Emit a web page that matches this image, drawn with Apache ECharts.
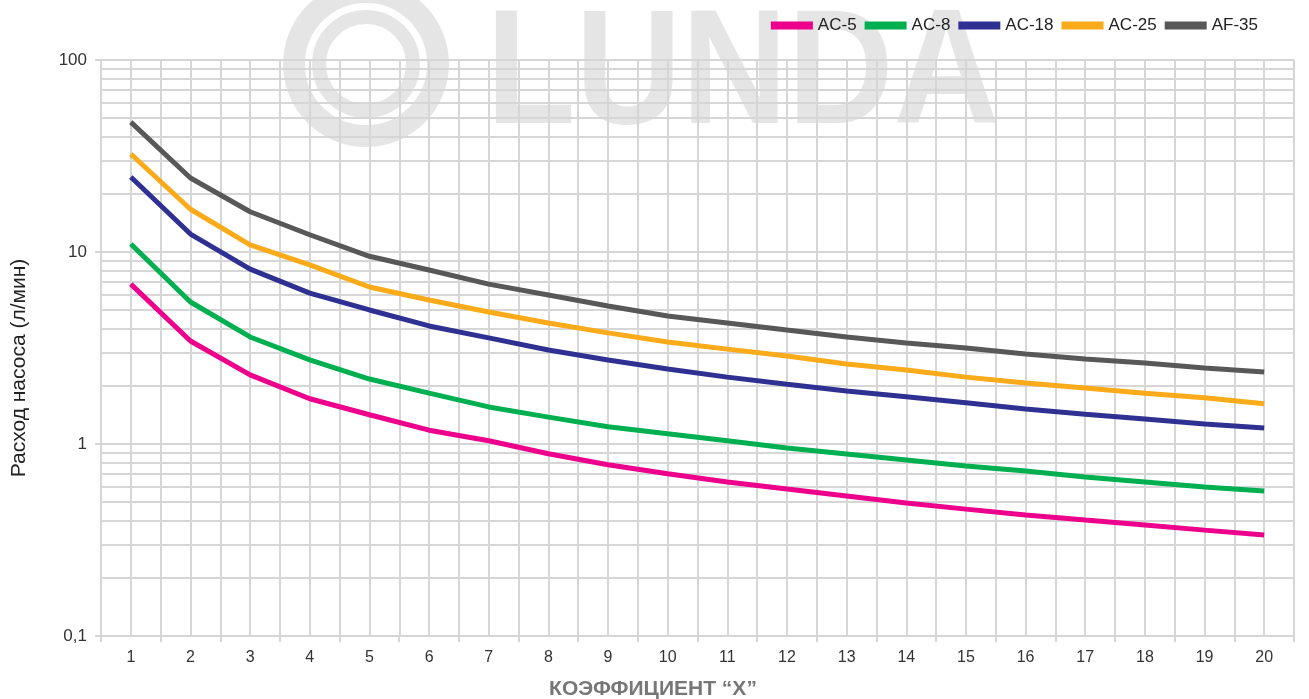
<!DOCTYPE html>
<html>
<head>
<meta charset="utf-8">
<script src="https://cdn.jsdelivr.net/npm/echarts@6/dist/echarts.min.js"></script>
<style>
  html, body { margin: 0; padding: 0; background: #fff; }
  #chart { width: 1309px; height: 699px; }
</style>
</head>
<body>
<div id="chart"></div>
<script>
// коэффициент X
var categories = ['1','2','3','4','5','6','7','8','9','10','11','12','13','14','15','16','17','18','19','20'];

// расход насоса, л/мин
var ac5  = [6.8, 3.44, 2.29, 1.72, 1.42, 1.18, 1.04, 0.89, 0.78, 0.70, 0.634, 0.583, 0.536, 0.493, 0.458, 0.427, 0.402, 0.379, 0.356, 0.336];
var ac8  = [11.0, 5.49, 3.61, 2.74, 2.18, 1.84, 1.56, 1.38, 1.23, 1.13, 1.04, 0.953, 0.887, 0.826, 0.768, 0.723, 0.673, 0.634, 0.597, 0.569];
var ac18 = [24.6, 12.4, 8.15, 6.11, 4.99, 4.12, 3.57, 3.09, 2.74, 2.46, 2.23, 2.05, 1.89, 1.76, 1.64, 1.52, 1.43, 1.35, 1.27, 1.21];
var ac25 = [32.4, 16.7, 10.9, 8.56, 6.57, 5.62, 4.87, 4.27, 3.79, 3.40, 3.12, 2.87, 2.61, 2.43, 2.23, 2.08, 1.96, 1.84, 1.74, 1.62];
var af35 = [47.5, 24.3, 16.2, 12.3, 9.5, 8.06, 6.8, 5.97, 5.23, 4.64, 4.27, 3.92, 3.61, 3.36, 3.16, 2.94, 2.77, 2.64, 2.49, 2.37];

// промежуточные линии логарифмической сетки
var minorTicks = [0.2,0.3,0.4,0.5,0.6,0.7,0.8,0.9, 2,3,4,5,6,7,8,9, 20,30,40,50,60,70,80,90];

var gridColor = '#d6d6d6';
var sans = '"Liberation Sans", Arial, sans-serif';
var wm = 'rgba(0,0,0,0.1)';

function mkLine(name, data, color) {
  return {
    name: name,
    type: 'line',
    data: data,
    symbol: 'none',
    lineStyle: { color: color, width: 5 },
    itemStyle: { color: color },
    z: 5
  };
}

var option = {
  animation: false,
  grid: { left: 101, right: 15, top: 60, bottom: 63 },
  legend: {
    right: 46,
    top: 12,
    icon: 'rect',
    itemWidth: 42,
    itemHeight: 8,
    itemGap: 8,
    textStyle: { fontFamily: sans, fontSize: 17, color: '#222' },
    data: ['AC-5', 'AC-8', 'AC-18', 'AC-25', 'AF-35']
  },
  xAxis: [
    {
      type: 'category',
      data: categories,
      boundaryGap: true,
      axisLine: { show: true, lineStyle: { color: gridColor, width: 2 } },
      axisTick: { show: true, length: 6, lineStyle: { color: gridColor, width: 2 } },
      axisLabel: { fontFamily: sans, fontSize: 16, color: '#333', margin: 14 },
      splitLine: { show: false }
    },
    {
      // полушаговая вертикальная сетка
      type: 'value',
      min: 0,
      max: 40,
      interval: 1,
      axisLine: { show: false },
      axisTick: { show: false },
      axisLabel: { show: false },
      splitLine: { show: true, lineStyle: { color: gridColor, width: 2 } }
    }
  ],
  yAxis: {
    type: 'log',
    logBase: 10,
    min: 0.1,
    max: 100,
    interval: 1,
    axisLine: { show: false },
    axisTick: { show: true, length: 6, lineStyle: { color: gridColor, width: 2 } },
    axisLabel: {
      fontFamily: sans, fontSize: 17, color: '#333', margin: 14,
      formatter: function (v) { return String(v).replace('.', ','); }
    },
    splitLine: { show: true, lineStyle: { color: gridColor, width: 2 } }
  },
  graphic: [
    {
      type: 'text',
      x: 19,
      y: 368,
      rotation: Math.PI / 2,
      style: {
        text: 'Расход насоса (л/мин)',
        fontFamily: sans,
        fontSize: 21,
        fill: '#222',
        align: 'center',
        verticalAlign: 'middle'
      }
    },
    {
      type: 'text',
      x: 653,
      y: 689,
      style: {
        text: 'КОЭФФИЦИЕНТ “X”',
        fontFamily: sans,
        fontWeight: 'bold',
        fontSize: 21,
        fill: '#777',
        align: 'center',
        verticalAlign: 'middle'
      }
    },
    // водяной знак
    {
      type: 'group',
      z: 100,
      silent: true,
      children: [
        { type: 'circle', shape: { cx: 366, cy: 64, r: 72 }, style: { fill: 'none', stroke: wm, lineWidth: 22 } },
        { type: 'circle', shape: { cx: 366, cy: 64, r: 47 }, style: { fill: 'none', stroke: wm, lineWidth: 14 } },
        { type: 'text', x: 486, y: 78, scaleX: 0.9, style: { text: 'LUNDA', fontFamily: sans, fontWeight: 'bold', fontSize: 163, fill: wm, align: 'left', verticalAlign: 'middle' } }
      ]
    }
  ],
  series: [
    {
      type: 'line',
      data: [],
      silent: true,
      markLine: {
        silent: true,
        symbol: 'none',
        label: { show: false },
        lineStyle: { color: gridColor, width: 2, type: 'solid' },
        data: minorTicks.map(function (v) { return { yAxis: v }; })
      },
      z: 1
    },
    mkLine('AC-5', ac5, '#ec008c'),
    mkLine('AC-8', ac8, '#00b050'),
    mkLine('AC-18', ac18, '#2e3192'),
    mkLine('AC-25', ac25, '#fbaa19'),
    mkLine('AF-35', af35, '#585858')
  ]
};

var chart = echarts.init(document.getElementById('chart'));
chart.setOption(option);
</script>
</body>
</html>
